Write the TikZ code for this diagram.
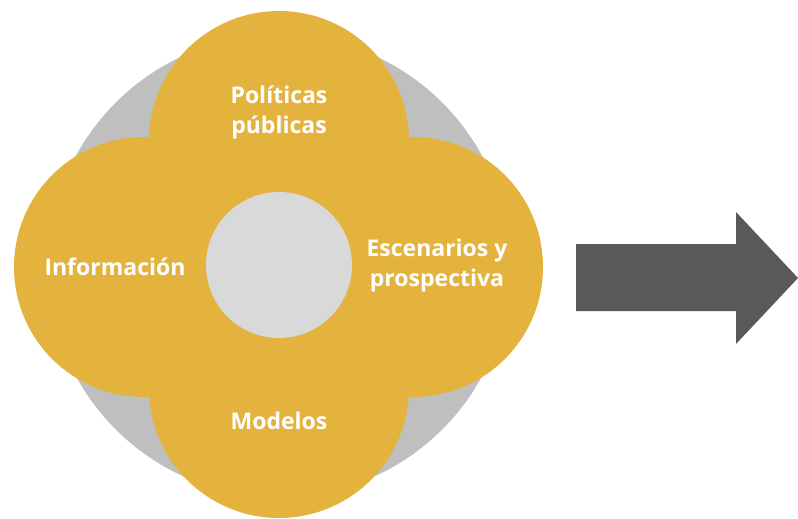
\documentclass[tikz,border=0pt]{standalone}
\usepackage{fontspec}
\setmainfont{Open Sans}
\usepackage{tikz}
\usetikzlibrary{positioning}
\definecolor{petalyellow}{RGB}{227, 179, 62}
\definecolor{ringgray}{RGB}{191, 191, 191}
\definecolor{coregray}{RGB}{217, 217, 217}
\definecolor{arrowgray}{RGB}{89, 89, 89}

\begin{document}
\begin{tikzpicture}[
  x=1pt, y=-1pt,
  every node/.style={font=\fontsize{23}{30}\selectfont\bfseries, text=white, align=center},
  petal/.style={fill=petalyellow}
]
  \useasboundingbox (0,0) rectangle (798,519);

  % Outer ring
  \fill[ringgray] (279,266) circle[radius=231pt];

  % Petals
  \fill[petal] (279,141) circle[radius=130pt];
  \fill[petal] (144,267) circle[radius=130pt];
  \fill[petal] (413,267) circle[radius=130pt];
  \fill[petal] (279,388) circle[radius=130pt];

  % Core
  \fill[coregray] (279,265) circle[radius=73pt];

  % Labels
  \node (politicas) at (279,112) {Políticas\\públicas};
  \node (informacion) at (115,267) {Información};
  \node (escenarios) at (437,266) {Escenarios y\\prospectiva};
  \node (modelos) at (279,421) {Modelos};

  % Arrow
  \fill[arrowgray] (576,244) -- (736,244) -- (736,212) -- (798,278)
    -- (736,344) -- (736,311) -- (576,311) -- cycle;
\end{tikzpicture}
\end{document}
